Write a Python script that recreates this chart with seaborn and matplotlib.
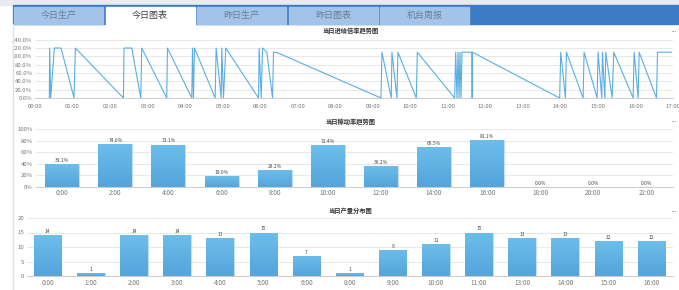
import numpy as np
import pandas as pd
import matplotlib
matplotlib.use("Agg")
import matplotlib.pyplot as plt
from matplotlib.patches import Rectangle
from matplotlib.colors import LinearSegmentedColormap
import seaborn as sns

# ==========================================
# DATA
# ==========================================
tab_names = ["今日生产", "今日图表", "昨日生产", "昨日图表", "机台周报"]

feed_title = "当日进给倍率趋势图"
feed_hours = [0.382, 0.391, 0.418, 0.516, 0.693, 1.04, 1.076, 2.356, 2.373, 2.578,
              2.818, 2.844, 3.511, 3.529, 4.178, 4.196, 4.222, 4.249, 4.8, 4.827,
              4.96, 4.978, 5.022, 5.084, 5.956, 5.973, 6.027, 6.062, 6.178, 6.329,
              6.356, 6.427, 9.218, 9.245, 9.493, 9.511, 9.644, 9.671, 10.16, 10.187,
              11.182, 11.209, 11.244, 11.271, 11.298, 11.324, 11.351, 11.378, 11.644, 11.648,
              11.652, 13.98, 14.009, 14.133, 14.16, 14.604, 14.631, 14.978, 15.004, 15.102,
              15.12, 15.182, 15.209, 15.378, 15.422, 15.938, 15.964, 16.071, 16.098, 16.56,
              16.587, 16.96]
feed_rate = [0, 120, 0, 120, 120, 0, 120, 0, 120, 120,
             0, 120, 0, 120, 0, 120, 0, 120, 0, 120,
             0, 120, 0, 120, 0, 120, 0, 120, 110, 0,
             110, 110, 0, 110, 0, 110, 0, 110, 0, 110,
             0, 110, 0, 110, 0, 110, 0, 110, 110, 0,
             110, 0, 110, 0, 110, 0, 110, 0, 110, 0,
             110, 0, 110, 0, 110, 0, 110, 0, 110, 0,
             110, 110]
feed_ticks = ["%02d:00" % h for h in range(18)]
feed_yticks = [0, 20, 40, 60, 80, 100, 120, 140]

util_title = "当日稼动率趋势图"
util_hours = ["0:00", "2:00", "4:00", "6:00", "8:00", "10:00",
              "12:00", "14:00", "16:00", "18:00", "20:00", "22:00"]
util_rate = [39.1, 74.6, 73.1, 19.0, 28.2, 72.4, 36.2, 68.5, 81.1, 0.0, 0.0, 0.0]
util_yticks = [0, 20, 40, 60, 80, 100]

output_title = "当日产量分布图"
output_hours = ["0:00", "1:00", "2:00", "3:00", "4:00", "5:00", "6:00", "8:00",
                "9:00", "10:00", "11:00", "13:00", "14:00", "15:00", "16:00"]
output_count = [14, 1, 14, 14, 13, 15, 7, 1, 9, 11, 15, 13, 13, 12, 12]
output_yticks = [0, 5, 10, 15, 20]

# ==========================================
# STYLE
# ==========================================
sns.set_theme(style="white")
plt.rcParams['font.family'] = ['Noto Sans CJK SC', 'DejaVu Sans']

W, H = 679, 290
LINE_BLUE = "#5aaee3"
GRID = "#e4e4e4"
TICK = "#777777"
bar_cmap = LinearSegmentedColormap.from_list("bar", ["#6dbdeb", "#55a4db"])


def fx(px):
    return px / W


def fy(py):
    return 1 - py / H


def ax_rect(left, right, top, bottom):
    return [fx(left), fy(bottom), (right - left) / W, (bottom - top) / H]


def style_axis(ax):
    for s in ["top", "right", "left"]:
        ax.spines[s].set_visible(False)
    ax.spines["bottom"].set_color("#cccccc")
    ax.spines["bottom"].set_linewidth(0.7)
    ax.yaxis.grid(True, color=GRID, lw=0.6)
    ax.xaxis.grid(False)
    ax.set_axisbelow(True)
    ax.set_xlabel("")
    ax.set_ylabel("")
    ax.tick_params(axis="y", length=0, labelsize=4.3, colors=TICK, pad=2)
    ax.tick_params(axis="x", labelsize=4.6, colors=TICK, pad=2)


def gradient_bars(ax):
    grad = np.linspace(0, 1, 64).reshape(-1, 1)
    for p in ax.patches:
        x, y = p.get_x(), p.get_y()
        w, h = p.get_width(), p.get_height()
        if h <= 0:
            continue
        p.set_edgecolor("#c2e4f8")
        p.set_linewidth(0.6)
        im = ax.imshow(grad, extent=[x, x + w, y, y + h], origin="upper",
                       aspect="auto", cmap=bar_cmap, zorder=p.get_zorder())
        im.set_clip_path(p)


fig = plt.figure(figsize=(W / 100, H / 100), dpi=100)
fig.patch.set_facecolor("white")

# ==========================================
# TAB BAR / PAGE CHROME
# ==========================================
fig.patches.append(Rectangle((0, fy(5)), 1, 5 / H, transform=fig.transFigure,
                             color="#e8ecf1", zorder=0))
fig.patches.append(Rectangle((fx(13), fy(24)), 1, 19 / H, transform=fig.transFigure,
                             color="#3c7cc4", zorder=1))
for i, name in enumerate(tab_names):
    x0 = 14 + i * 91.5
    active = i == 1
    fig.patches.append(Rectangle((fx(x0), fy(24.5 if active else 24)), 89 / W,
                                 (17.5 if active else 17) / H,
                                 transform=fig.transFigure,
                                 color="white" if active else "#a3c3e9", zorder=2))
    fig.text(fx(x0 + 44.5), fy(15.5), name, ha="center", va="center", fontsize=6.5,
             color="#444444" if active else "#6b7e98", zorder=3)
fig.add_artist(plt.Line2D([fx(13), fx(13)], [fy(24), 0], transform=fig.transFigure,
                          color="#d3e3f3", lw=1))

for title, ty in [(feed_title, 31), (util_title, 121), (output_title, 211)]:
    fig.text(fx(350), fy(ty), title, ha="center", va="center", fontsize=4.5,
             color="#333333", fontweight="bold")
    fig.text(fx(677), fy(ty - 1), "...", ha="right", va="center", fontsize=4.5,
             color="#777777")

# ==========================================
# CHART 1: feed rate line
# ==========================================
ax1 = fig.add_axes(ax_rect(35, 673, 39.7, 98))
feed_df = pd.DataFrame({"hour": feed_hours, "rate": feed_rate})
sns.lineplot(data=feed_df, x="hour", y="rate", sort=False, estimator=None,
             color=LINE_BLUE, lw=0.8, ax=ax1)
ax1.set_xlim(0, 17)
ax1.set_ylim(0, 140)
ax1.set_xticks(range(18))
ax1.set_xticklabels(feed_ticks)
ax1.set_yticks(feed_yticks)
ax1.set_yticklabels(["%.1f%%" % v for v in feed_yticks])
style_axis(ax1)
ax1.tick_params(axis="x", length=2, color="#cccccc", labelsize=4.3)

# ==========================================
# CHART 2: utilization bars
# ==========================================
ax2 = fig.add_axes(ax_rect(35.7, 673, 129, 186.7))
sns.barplot(x=util_hours, y=util_rate, color="#5fb0e4", width=0.64, ax=ax2)
gradient_bars(ax2)
for i, v in enumerate(util_rate):
    ax2.text(i, v + 2, "%.1f%%" % v, ha="center", va="bottom", fontsize=3.5, color="#444444")
ax2.set_xlim(-0.5, 11.3)
ax2.set_ylim(0, 100)
ax2.set_yticks(util_yticks)
ax2.set_yticklabels(["%d%%" % v for v in util_yticks])
style_axis(ax2)
ax2.set_xticks(np.arange(len(util_hours)) + 0.5, minor=True)
ax2.tick_params(axis="x", which="major", length=0)
ax2.tick_params(axis="x", which="minor", length=2, color="#cccccc")

# ==========================================
# CHART 3: output bars
# ==========================================
ax3 = fig.add_axes(ax_rect(27, 673, 218, 276))
sns.barplot(x=output_hours, y=output_count, color="#5fb0e4", width=0.64, ax=ax3)
gradient_bars(ax3)
for i, v in enumerate(output_count):
    ax3.text(i, v + 0.4, str(v), ha="center", va="bottom", fontsize=3.5, color="#444444")
ax3.set_xlim(-0.48, 14.25)
ax3.set_ylim(0, 20)
ax3.set_yticks(output_yticks)
style_axis(ax3)
ax3.set_xticks(np.arange(len(output_hours)) + 0.5, minor=True)
ax3.tick_params(axis="x", which="major", length=0)
ax3.tick_params(axis="x", which="minor", length=2, color="#cccccc")

fig.savefig("out.png", dpi=100)
